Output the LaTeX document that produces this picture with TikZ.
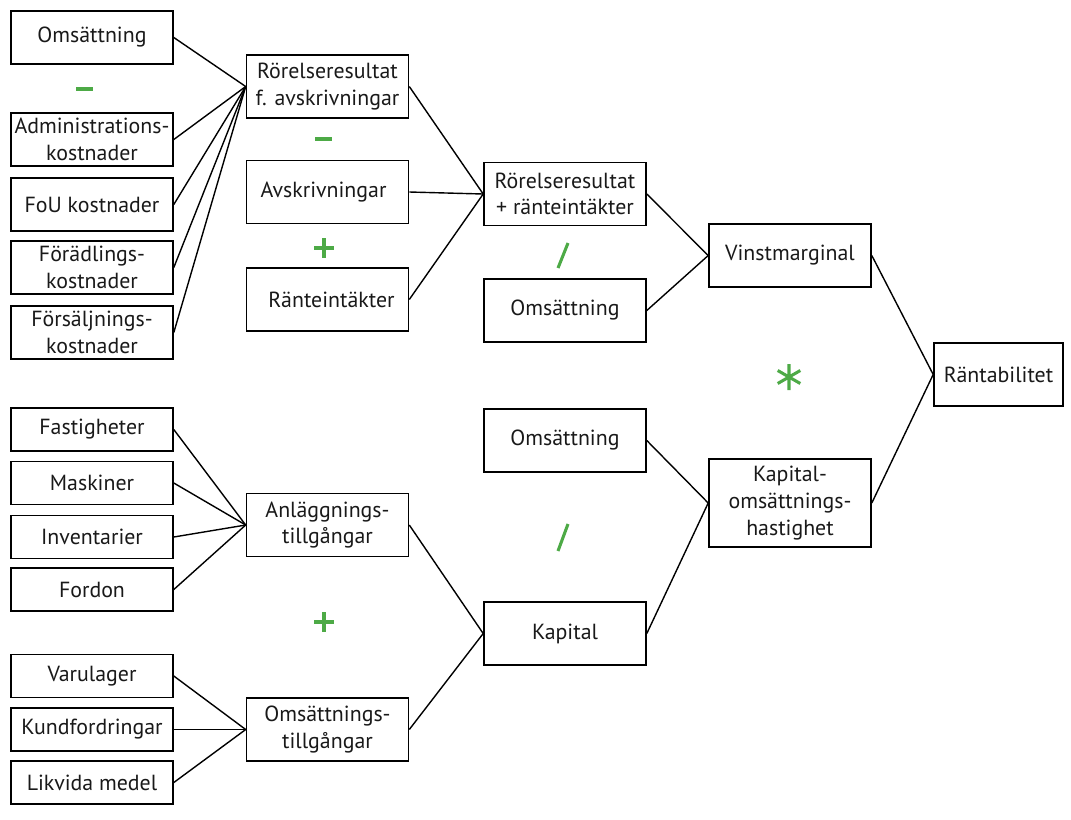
\documentclass[tikz,border=0pt]{standalone}
\usepackage{fontspec}
\setmainfont{PT Sans}
\begin{document}
\begin{tikzpicture}[x=0.75pt,y=-0.75pt,
  box/.style={draw=black,line width=1.2pt,align=center,inner sep=0pt,
    font=\fontsize{16.4}{20}\selectfont,text=black!90},
  col/.style={box,minimum width=121.5pt},
  link/.style={draw=black,line width=1.05pt},
  op/.style={draw=opgreen,line width=2.3pt}]
\definecolor{opgreen}{RGB}{77,170,70}
\useasboundingbox (0,0) rectangle (1071,819);

% first column: cost items
\node[col,minimum height=39.75pt] (om1)  at (92,37.5)  {Omsättning};
\node[col,minimum height=39.75pt] (adm)  at (92,139.5) {Administrations-\\kostnader};
\node[col,minimum height=39.75pt] (fou)  at (92,204.5) {FoU kostnader};
\node[col,minimum height=39.75pt] (fora) at (92,267.5) {Förädlings-\\kostnader};
\node[col,minimum height=39.75pt] (fors) at (92,332.5) {Försäljnings-\\kostnader};

% first column: asset items
\node[col,minimum height=32pt] (fast) at (92,429.5) {Fastigheter};
\node[col,minimum height=32pt] (mask) at (92,483)   {Maskiner};
\node[col,minimum height=32pt] (inv)  at (92,537)   {Inventarier};
\node[col,minimum height=32pt] (ford) at (92,589.5) {Fordon};
\node[col,minimum height=32pt] (varu) at (92,676)   {Varulager};
\node[col,minimum height=32pt] (kund) at (92,729.5) {Kundfordringar};
\node[col,minimum height=32pt] (likv) at (92,782.5) {Likvida medel};

% second column
\node[col,minimum height=47pt] (rrfa) at (327.5,86.5)  {Rörelseresultat\\f. avskrivningar};
\node[col,minimum height=47pt] (avsk) at (327.5,192)   {\hspace*{-6pt}Avskrivningar};
\node[col,minimum height=47pt] (rant) at (327.5,299.5) {\hspace*{6pt}Ränteintäkter};
\node[col,minimum height=47pt] (anl)  at (327.5,525)   {Anläggnings-\\tillgångar};
\node[col,minimum height=47pt] (omst) at (327.5,729.5) {Omsättnings-\\tillgångar};

% third column
\node[col,minimum height=47pt] (rrra) at (565,194)   {Rörelseresultat\\+ ränteintäkter};
\node[col,minimum height=47pt] (om2)  at (565,310.5) {Omsättning};
\node[col,minimum height=47pt] (om3)  at (565,440.5) {Omsättning};
\node[col,minimum height=47pt] (kap)  at (565,633.5) {Kapital};

% fourth and fifth column
\node[col,minimum height=66pt] (kapoms) at (790,503)   {Kapital-\\omsättnings-\\hastighet};
\node[col,minimum height=47pt] (vinst)  at (790,255.5) {Vinstmarginal};
\node[box,minimum width=96.75pt,minimum height=47pt] (rtb) at (998.5,374.5) {Räntabilitet};

% connectors
\foreach \s in {om1,adm,fou,fora,fors} \draw[link] (\s.east) -- (rrfa.west);
\foreach \s in {rrfa,avsk,rant} \draw[link] (\s.east) -- (rrra.west);
\foreach \s in {rrra,om2} \draw[link] (\s.east) -- (vinst.west);
\foreach \s in {fast,mask,inv,ford} \draw[link] (\s.east) -- (anl.west);
\foreach \s in {varu,kund,likv} \draw[link] (\s.east) -- (omst.west);
\foreach \s in {anl,omst} \draw[link] (\s.east) -- (kap.west);
\foreach \s in {om3,kap} \draw[link] (\s.east) -- (kapoms.west);
\foreach \s in {vinst,kapoms} \draw[link] (\s.east) -- (rtb.west);

% arithmetic operators
\draw[op] (76,89) -- (93,89);
\draw[op] (315,139) -- (332,139);
\draw[op] (314,248) -- (334,248) (324,238) -- (324,258);
\draw[op] (314,622) -- (334,622) (324,612) -- (324,632);
\draw[op] (558,268) -- (568,243);
\draw[op] (558,551) -- (568,524);
\draw[op] (789,364) -- (789,390)
          (777.7,370.5) -- (800.3,383.5)
          (777.7,383.5) -- (800.3,370.5);
\end{tikzpicture}
\end{document}
